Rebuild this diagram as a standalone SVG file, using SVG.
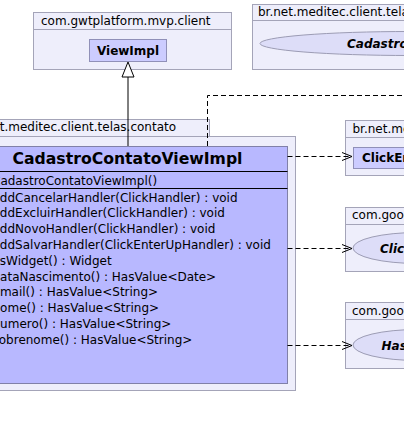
<svg xmlns="http://www.w3.org/2000/svg" width="404" height="429" viewBox="0 0 404 429">
<style>
text{font-family:"DejaVu Sans","Liberation Sans",sans-serif;font-size:12px;fill:#000}
.pkg{fill:#EEEEFB;stroke:#A4A4B8;stroke-width:1}
.cls{fill:#CCCCFF;stroke:#9090B8;stroke-width:1}
.main{fill:#B8B8FF;stroke:#8080A8;stroke-width:1}
.ell{fill:#DDDDF8;stroke:#9C9CB4;stroke-width:1}
.b{font-weight:bold}
.bi{font-weight:bold;font-style:italic}
.dash{fill:none;stroke:#000;stroke-width:1;stroke-dasharray:5,3}
.head{fill:none;stroke:#000;stroke-width:1}
</style>
<rect width="404" height="429" fill="#FFFFFF"/>

<g id="pkg-gwtplatform">
<rect class="pkg" x="33.5" y="12.5" width="198" height="57"/>
<line x1="33.5" y1="29.5" x2="231.5" y2="29.5" stroke="#A4A4B8"/>
<text x="41" y="25">com.gwtplatform.mvp.client</text>
</g>
<g id="ViewImpl">
<rect class="cls" x="89.5" y="39.5" width="77" height="22"/>
<text class="b" x="128" y="55" text-anchor="middle">ViewImpl</text>
</g>

<g id="pkg-view">
<rect class="pkg" x="252.5" y="4.5" width="240" height="65"/>
<line x1="252.5" y1="20.5" x2="492.5" y2="20.5" stroke="#A4A4B8"/>
<text x="258" y="16">br.net.meditec.client.telas.contato</text>
</g>
<g id="CadastroContatoView">
<ellipse class="ell" cx="410" cy="43.5" rx="150" ry="12"/>
<text class="bi" x="347" y="48">CadastroContatoPresenter.MyView</text>
</g>

<g id="pkg-contato">
<rect class="pkg" x="-40.5" y="119.5" width="250" height="17"/>
<rect class="pkg" x="-40.5" y="136.5" width="336" height="254"/>
<text x="-30.5" y="131">br.net.meditec.client.telas.contato</text>
</g>
<g id="CadastroContatoViewImpl">
<rect class="main" x="-32.5" y="146.5" width="320" height="237"/>
<text class="b" x="12.5" y="164" style="font-size:16px" textLength="230" lengthAdjust="spacingAndGlyphs">CadastroContatoViewImpl</text>
<line x1="-32.5" y1="171.5" x2="287.5" y2="171.5" stroke="#000"/>
<text x="-8" y="185">CadastroContatoViewImpl()</text>
<line x1="-32.5" y1="188.5" x2="287.5" y2="188.5" stroke="#000"/>
<text x="-7.5" y="201.5">addCancelarHandler(ClickHandler) : void</text>
<text x="-7.5" y="217.3">addExcluirHandler(ClickHandler) : void</text>
<text x="-7.5" y="233.1">addNovoHandler(ClickHandler) : void</text>
<text x="-7.5" y="248.9">addSalvarHandler(ClickEnterUpHandler) : void</text>
<text x="-7.5" y="264.7">asWidget() : Widget</text>
<text x="-7.5" y="280.5">dataNascimento() : HasValue&lt;Date&gt;</text>
<text x="-7.5" y="296.3">email() : HasValue&lt;String&gt;</text>
<text x="-7.5" y="312.1">nome() : HasValue&lt;String&gt;</text>
<text x="-7.5" y="327.9">numero() : HasValue&lt;String&gt;</text>
<text x="-7.5" y="343.7">sobrenome() : HasValue&lt;String&gt;</text>
</g>

<g id="pkg-componentes">
<rect class="pkg" x="345.5" y="120.5" width="200" height="55"/>
<line x1="345.5" y1="137.5" x2="545.5" y2="137.5" stroke="#A4A4B8"/>
<text x="352.5" y="133">br.net.meditec.client.componentes</text>
</g>
<g id="ClickEnterUpHandler">
<rect class="cls" x="353.5" y="147.5" width="150" height="21"/>
<text class="b" x="362" y="162">ClickEnterUpHandler</text>
</g>

<g id="pkg-event">
<rect class="pkg" x="345.5" y="207.5" width="200" height="64"/>
<line x1="345.5" y1="224.5" x2="545.5" y2="224.5" stroke="#A4A4B8"/>
<text x="352" y="219">com.google.gwt.event.dom.client</text>
</g>
<g id="ClickHandler">
<ellipse class="ell" cx="418" cy="248" rx="65" ry="15.5"/>
<text class="bi" x="380" y="252.5">ClickHandler</text>
</g>

<g id="pkg-ui">
<rect class="pkg" x="345.5" y="302.5" width="200" height="66"/>
<line x1="345.5" y1="319.5" x2="545.5" y2="319.5" stroke="#A4A4B8"/>
<text x="352" y="315">com.google.gwt.user.client.ui</text>
</g>
<g id="HasValue">
<ellipse class="ell" cx="418" cy="345" rx="65" ry="15.5"/>
<text class="bi" x="381.5" y="349.5">HasValue</text>
</g>

<g id="connectors">
<line x1="128" y1="77" x2="128" y2="146" stroke="#000"/>
<polygon points="128,62 122,77 134,77" fill="#FFFFFF" stroke="#000"/>
<polyline class="dash" points="207.5,146 207.5,95.5 410,95.5"/>
<line class="dash" x1="287.5" y1="156.5" x2="352" y2="156.5"/>
<polyline class="head" points="342,152.5 352,156.5 342,160.5"/>
<line class="dash" x1="287.5" y1="248.5" x2="352" y2="248.5"/>
<polyline class="head" points="342,244.5 352,248.5 342,252.5"/>
<line class="dash" x1="287.5" y1="345.5" x2="352" y2="345.5"/>
<polyline class="head" points="342,341.5 352,345.5 342,349.5"/>
</g>
</svg>
